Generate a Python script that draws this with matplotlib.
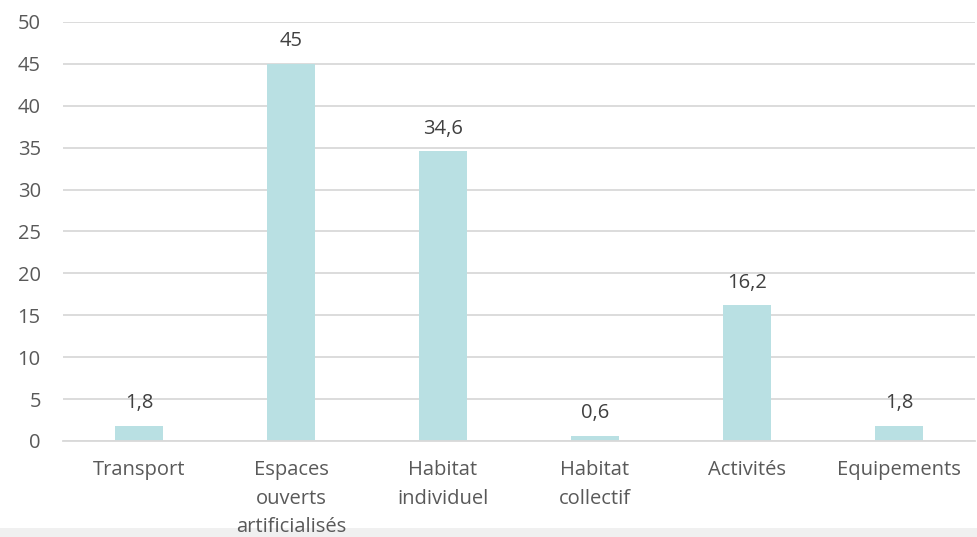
import matplotlib.pyplot as plt
from matplotlib.patches import Rectangle

plt.rcParams['font.family'] = ['Open Sans', 'DejaVu Sans']

categories = ["Transport", "Espaces\nouverts\nartificialisés", "Habitat\nindividuel",
              "Habitat\ncollectif", "Activités", "Equipements"]
values = [1.8, 45, 34.6, 0.6, 16.2, 1.8]
value_labels = ["1,8", "45", "34,6", "0,6", "16,2", "1,8"]
yticks = [0, 5, 10, 15, 20, 25, 30, 35, 40, 45, 50]

text_color = "#595959"

fig = plt.figure(figsize=(9.78, 5.37), dpi=100)
ax = fig.add_axes([63 / 978, 1 - 441 / 537, 912 / 978, 419 / 537])
ax.set_zorder(2)

# light gray band at the bottom, behind the labels
fig.patches.append(Rectangle((0, 0), 1, 9 / 537, transform=fig.transFigure,
                             facecolor="#F0F0F0", edgecolor="none", zorder=-1))

x = range(len(categories))
ax.bar(x, values, width=0.31, color="#B9E0E3", zorder=2)

for xi, v, lab in zip(x, values, value_labels):
    ax.annotate(lab, (xi, v), xytext=(0, 9), textcoords="offset points",
                ha="center", va="bottom", fontsize=14.5, color="#404040")

ax.set_xlim(-0.5, len(categories) - 0.5)
ax.set_ylim(0, 50)
ax.set_yticks(yticks)
ax.set_yticklabels([str(t) for t in yticks])
ax.set_xticks(list(x))
ax.set_xticklabels(categories, linespacing=1.55)

ax.yaxis.grid(True, color="#D9D9D9", linewidth=1.3, zorder=0)
ax.set_axisbelow(True)
for s in ["top", "right", "left"]:
    ax.spines[s].set_visible(False)
ax.spines["bottom"].set_color("#D9D9D9")
ax.spines["bottom"].set_linewidth(1.3)

ax.tick_params(axis="both", length=0, labelsize=14.5, colors=text_color)
ax.tick_params(axis="x", pad=14)
ax.tick_params(axis="y", pad=16)

fig.savefig("out.png", dpi=100)
